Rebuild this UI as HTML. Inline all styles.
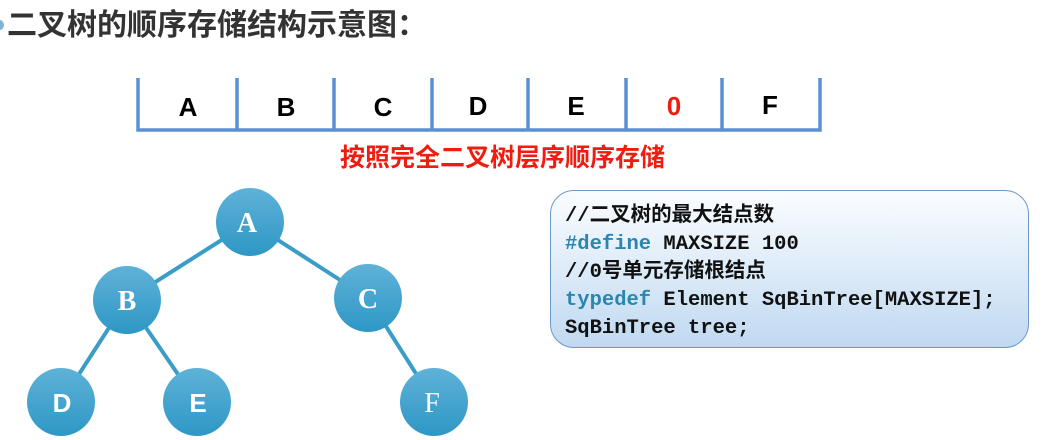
<!DOCTYPE html>
<html><head><meta charset="utf-8"><style>
body{margin:0;width:1043px;height:440px;background:#fff;overflow:hidden;position:relative;font-family:"Liberation Sans","Noto Sans CJK SC",sans-serif}
.t{position:absolute;left:7px;top:8px;font-size:30px;line-height:36px;font-weight:bold;color:#333}
.dot{position:absolute;left:-4px;top:20px;width:8px;height:10px;border-radius:50%;background:#7fb3d8}
.red{position:absolute;left:340px;top:143px;font-size:25px;line-height:30px;font-weight:bold;color:#f01c10}
.code{position:absolute;left:550px;top:190px;width:479px;height:158px;border:1.5px solid #6d97c9;border-radius:24px;background:linear-gradient(#fbfdff,#c0d9f1);box-sizing:border-box}
.code pre{margin:0;position:absolute;left:14px;top:12px;font-family:"Liberation Mono","Noto Sans CJK SC",monospace;font-weight:bold;font-size:20.5px;line-height:28px;color:#111}
.k{color:#2a86b0}
</style></head><body>
<div class="dot"></div>
<div class="t">二叉树的顺序存储结构示意图：</div>
<svg width="1043" height="440" style="position:absolute;left:0;top:0">
<g stroke="#5b8fd3" stroke-width="3.5" fill="none">
<path d="M138 78 V130 H820 V78"/>
<path d="M237 78V130M334 78V130M432 78V130M528 78V130M626 78V130M722 78V130"/>
</g>
<g font-family="Liberation Sans" font-weight="bold" font-size="26" text-anchor="middle">
<text x="188" y="116">A</text><text x="286" y="116">B</text><text x="383" y="116">C</text><text x="478" y="115">D</text><text x="576" y="115">E</text><text x="674" y="115" fill="#f01c10">0</text><text x="770" y="114">F</text>
</g>
<defs><linearGradient id="g" x1="0" y1="0" x2="0" y2="1"><stop offset="0" stop-color="#5fb2d8"/><stop offset="1" stop-color="#2e97c5"/></linearGradient></defs>
<g stroke="#3a9dc8" stroke-width="4">
<line x1="250" y1="222" x2="127" y2="300"/><line x1="250" y1="222" x2="368" y2="298"/>
<line x1="127" y1="300" x2="61" y2="402"/><line x1="127" y1="300" x2="197" y2="402"/>
<line x1="368" y1="298" x2="434" y2="402"/>
</g>
<g fill="url(#g)">
<circle cx="250" cy="222" r="34"/><circle cx="127" cy="300" r="34"/><circle cx="368" cy="298" r="34"/>
<circle cx="61" cy="402" r="34"/><circle cx="197" cy="402" r="34"/><circle cx="434" cy="402" r="34"/>
</g>
<g fill="#fff" font-family="Liberation Serif" font-weight="bold" font-size="28" text-anchor="middle">
<text x="247" y="232">A</text><text x="127" y="310">B</text><text x="368" y="308">C</text>
<text x="62" y="412" font-family="Liberation Sans" font-size="26">D</text><text x="198" y="412" font-family="Liberation Sans" font-size="26">E</text><text x="432" y="412" font-weight="normal">F</text>
</g>
</svg>
<div class="red">按照完全二叉树层序顺序存储</div>
<div class="code"><pre>//二叉树的最大结点数
<span class="k">#define</span> MAXSIZE 100
//0号单元存储根结点
<span class="k">typedef</span> Element SqBinTree[MAXSIZE];
SqBinTree tree;</pre></div>
</body></html>
